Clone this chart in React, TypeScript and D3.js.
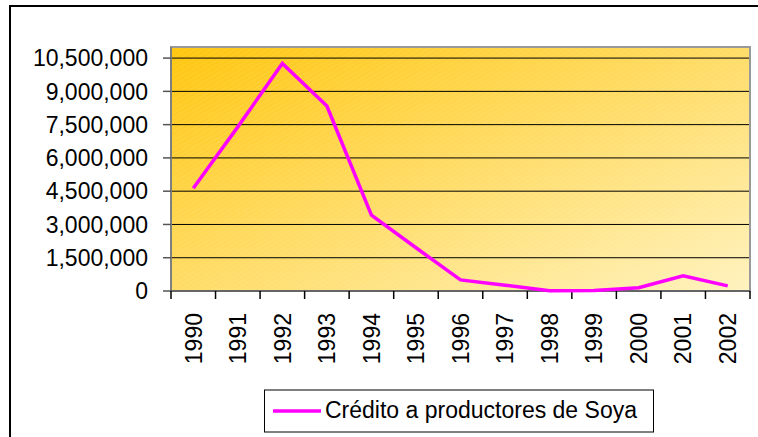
import React from "react";
import * as d3 from "d3";

const years = ["1990","1991","1992","1993","1994","1995","1996","1997","1998","1999","2000","2001","2002"];
const credito = [4630000, 7400000, 10260000, 8340000, 3420000, 1950000, 500000, 260000, 10000, 20000, 150000, 680000, 230000];
const yTicks = [0, 1500000, 3000000, 4500000, 6000000, 7500000, 9000000, 10500000];
const seriesName = "Crédito a productores de Soya";

const W = 758, H = 437;
const left = 171, right = 750, top = 47, bottom = 291;

export default function App() {
  const x = d3.scaleBand<string>().domain(years).range([left, right]).paddingInner(0).paddingOuter(0);
  const y = d3.scaleLinear().domain([0, 11000000]).range([bottom, top]);
  const fmt = d3.format(",");
  const line = d3.line<number>()
    .x((_, i) => (x(years[i]) as number) + x.bandwidth() / 2)
    .y((d) => y(d));
  const font = "Arial, 'Liberation Sans', sans-serif";
  return (
    <svg width={W} height={H} style={{ position: "absolute", left: 0, top: 0 }}>
      <defs>
        <linearGradient id="bg" x1="0" y1="0" x2="1" y2="1">
          <stop offset="0" stopColor="#FFC60E" />
          <stop offset="1" stopColor="#FFF2BE" />
        </linearGradient>
        <pattern id="hatch" width="4" height="4" patternUnits="userSpaceOnUse" patternTransform="rotate(-30)">
          <line x1="0" y1="0" x2="4" y2="0" stroke="#ffffff" strokeOpacity="0.18" strokeWidth="1" />
        </pattern>
      </defs>
      <rect x={0} y={0} width={W} height={H} fill="#fff" />
      <rect x={10} y={6} width={W + 10} height={H + 10} fill="#fff" stroke="#000" strokeWidth={2} />
      <rect x={left} y={top} width={right - left} height={bottom - top} fill="url(#bg)" />
      <rect x={left} y={top} width={right - left} height={bottom - top} fill="url(#hatch)" />
      {yTicks.filter((t) => t > 0).map((t) => (
        <line key={t} x1={left} x2={right} y1={y(t)} y2={y(t)} stroke="#000" strokeWidth={1} />
      ))}
      <rect x={left} y={top} width={right - left} height={bottom - top} fill="none" stroke="#999" strokeWidth={2} />
      <line x1={left} x2={left} y1={top} y2={bottom} stroke="#777" strokeWidth={1.5} />
      <line x1={left} x2={right} y1={bottom} y2={bottom} stroke="#555" strokeWidth={1.5} />
      {yTicks.map((t) => (
        <g key={t}>
          <line x1={left - 8} x2={left} y1={y(t)} y2={y(t)} stroke="#555" strokeWidth={1.5} />
          <text x={148} y={y(t)} dy="0.36em" textAnchor="end" fontFamily={font} fontSize={23} fill="#000">
            {fmt(t)}
          </text>
        </g>
      ))}
      {years.concat(["end"]).map((yr, i) => {
        const xx = i < years.length ? (x(yr) as number) : right;
        return <line key={yr} x1={xx} x2={xx} y1={bottom} y2={bottom + 8} stroke="#000" strokeWidth={1.5} />;
      })}
      {years.map((yr) => {
        const cx = (x(yr) as number) + x.bandwidth() / 2;
        return (
          <text key={yr} transform={`translate(${cx},313) rotate(-90)`} textAnchor="end" dy="0.36em"
            fontFamily={font} fontSize={23} fill="#000">
            {yr}
          </text>
        );
      })}
      <path d={line(credito) || ""} fill="none" stroke="#FF00FF" strokeWidth={3.5} strokeLinejoin="miter" />
      <rect x={264.5} y={390} width={389} height={42} fill="#fff" stroke="#000" strokeWidth={1} />
      <line x1={273} x2={321} y1={411} y2={411} stroke="#FF00FF" strokeWidth={3.5} />
      <text x={325} y={418} fontFamily={font} fontSize={23} fill="#000">{seriesName}</text>
    </svg>
  );
}
